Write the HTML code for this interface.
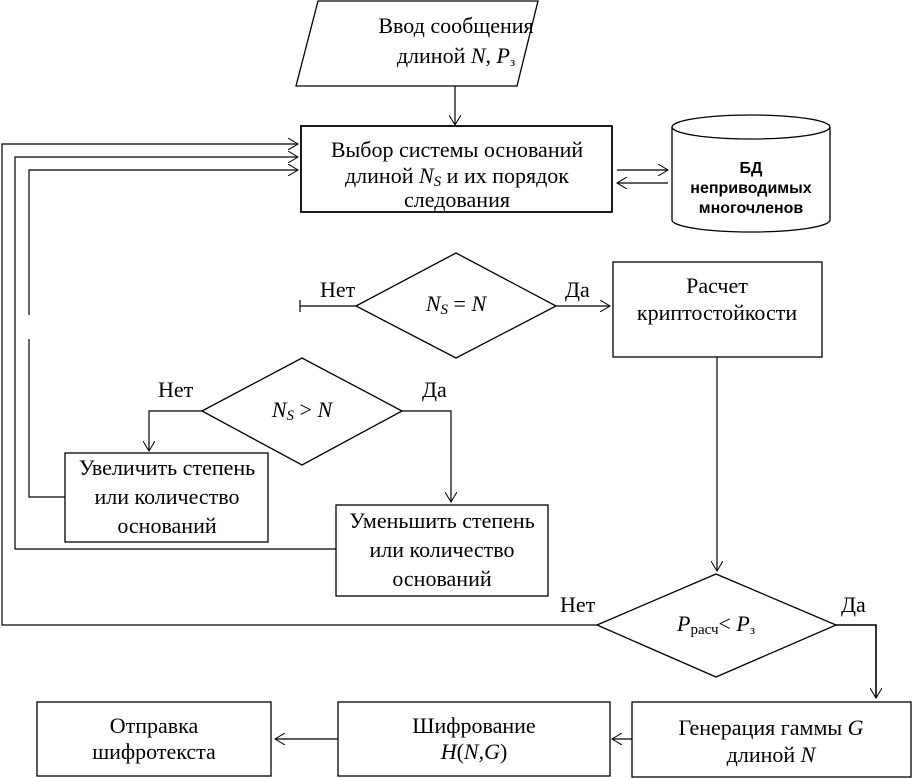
<!DOCTYPE html>
<html><head><meta charset="utf-8"><style>
html,body{margin:0;padding:0;background:#fff}
svg{display:block}
text{font-family:"Liberation Serif",serif;font-size:22px;fill:#000}
.i{font-style:italic}
.s{font-family:"Liberation Sans",sans-serif;font-size:16px;font-weight:bold}
</style></head><body>
<svg width="913" height="778" viewBox="0 0 913 778" xmlns="http://www.w3.org/2000/svg">
<defs><marker id="a" markerWidth="12" markerHeight="12" refX="10" refY="6" orient="auto" markerUnits="userSpaceOnUse"><path d="M0,0 L10,6 L0,12" fill="none" stroke="#000" stroke-width="1"/></marker></defs>
<g fill="none" stroke="#000" stroke-width="1.3">
<polygon points="318,1 538,1 517,86 296,86"/>
<rect x="301" y="126" width="311" height="86" stroke-width="1.8"/>
<path d="M672,127 A79,12 0 0 1 830,127 L830,220 A79,12 0 0 1 672,220 Z"/>
<path d="M672,127 A79,12 0 0 0 830,127"/>
<polygon points="356,306 456,253 556,306 456,358"/>
<rect x="613" y="262" width="209" height="95"/>
<polygon points="202,411 302,358 402,411 302,465"/>
<rect x="65" y="453" width="203" height="89"/>
<rect x="336" y="505" width="212" height="91"/>
<polygon points="597,625 716,574 836,625 716,677"/>
<rect x="632" y="702" width="279" height="75"/>
<rect x="338" y="702" width="272" height="74"/>
<rect x="37" y="702" width="234" height="74"/>
</g>
<g fill="none" stroke="#000" stroke-width="1.2">
<path d="M455,86 V125" marker-end="url(#a)"/>
<path d="M617,170 H668" marker-end="url(#a)"/>
<path d="M668,183 H617" marker-end="url(#a)"/>
<path d="M356,306 H300 M300,300 V312"/>
<path d="M556,306 H610" marker-end="url(#a)"/>
<path d="M717,357 V571" marker-end="url(#a)"/>
<path d="M836,625 H876 V698" marker-end="url(#a)" stroke-width="1.6"/>
<path d="M632,739 H612" marker-end="url(#a)"/>
<path d="M338,739 H275" marker-end="url(#a)"/>
<path d="M597,625 H2 V144 H298" marker-end="url(#a)"/>
<path d="M336,549 H15 V157 H298" marker-end="url(#a)"/>
<path d="M65,497 H29 V339 M29,315 V170 H298" marker-end="url(#a)"/>
<path d="M202,411 H149 V451" marker-end="url(#a)"/>
<path d="M402,411 H451 V502" marker-end="url(#a)"/>
</g>
<text x="456" y="33" text-anchor="middle">Ввод сообщения</text>
<text x="456" y="63" text-anchor="middle">длиной <tspan class="i">N</tspan>, <tspan class="i">P</tspan><tspan font-size="13" dy="3">з</tspan></text>
<text x="457" y="157" text-anchor="middle">Выбор системы оснований</text>
<text x="457" y="183" text-anchor="middle">длиной <tspan class="i">N</tspan><tspan class="i" font-size="15" dy="3">S</tspan><tspan dy="-3">  и их порядок</tspan></text>
<text x="457" y="207" text-anchor="middle">следования</text>
<text x="751" y="173" text-anchor="middle" class="s">БД</text>
<text x="751" y="193" text-anchor="middle" class="s">неприводимых</text>
<text x="751" y="213" text-anchor="middle" class="s">многочленов</text>
<text x="456" y="311" text-anchor="middle"><tspan class="i">N</tspan><tspan class="i" font-size="15" dy="3">S</tspan><tspan dy="-3"> = </tspan><tspan class="i">N</tspan></text>
<text x="320" y="297">Нет</text>
<text x="565" y="297">Да</text>
<text x="717" y="293" text-anchor="middle">Расчет</text>
<text x="717" y="320" text-anchor="middle">криптостойкости</text>
<text x="302" y="417" text-anchor="middle"><tspan class="i">N</tspan><tspan class="i" font-size="15" dy="3">S</tspan><tspan dy="-3"> &gt; </tspan><tspan class="i">N</tspan></text>
<text x="158" y="397">Нет</text>
<text x="422" y="397">Да</text>
<text x="167" y="475" text-anchor="middle">Увеличить степень</text>
<text x="167" y="504" text-anchor="middle">или количество</text>
<text x="167" y="533" text-anchor="middle">оснований</text>
<text x="442" y="528" text-anchor="middle">Уменьшить степень</text>
<text x="442" y="557" text-anchor="middle">или количество</text>
<text x="442" y="586" text-anchor="middle">оснований</text>
<text x="716" y="631" text-anchor="middle"><tspan class="i">P</tspan><tspan font-size="15" dy="3">расч</tspan><tspan dy="-3">&lt; </tspan><tspan class="i">P</tspan><tspan font-size="13" dy="3">з</tspan></text>
<text x="560" y="612">Нет</text>
<text x="841" y="612">Да</text>
<text x="771" y="735" text-anchor="middle">Генерация гаммы <tspan class="i">G</tspan></text>
<text x="771" y="762" text-anchor="middle">длиной <tspan class="i">N</tspan></text>
<text x="474" y="733" text-anchor="middle">Шифрование</text>
<text x="474" y="759" text-anchor="middle"><tspan class="i">H</tspan>(<tspan class="i">N</tspan>,<tspan class="i">G</tspan>)</text>
<text x="154" y="733" text-anchor="middle">Отправка</text>
<text x="154" y="759" text-anchor="middle">шифротекста</text>
</svg>
</body></html>
